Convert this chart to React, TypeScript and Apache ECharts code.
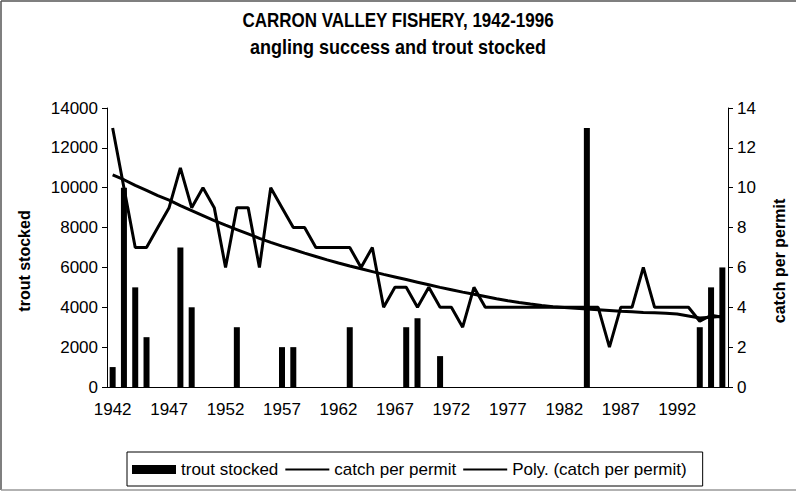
import React, { useEffect, useRef } from "react";
import * as echarts from "echarts";

const years: string[] = Array.from({ length: 55 }, (_, i) => String(1942 + i));

const troutStocked: (number | null)[] = [
  1000, 10000, 5000, 2500, null, null, 7000, 4000, null, null,
  null, 3000, null, null, null, 2000, 2000, null, null, null,
  null, 3000, null, null, null, null, 3000, 3450, null, 1550,
  null, null, null, null, null, null, null, null, null, null,
  null, null, 13000, null, null, null, null, null, null, null,
  null, null, 3000, 5000, 6000,
];

const catchPerPermit: number[] = [
  13, 10, 7, 7, 8, 9, 11, 9, 10, 9,
  6, 9, 9, 6, 10, 9, 8, 8, 7, 7,
  7, 7, 6, 7, 4, 5, 5, 4, 5, 4,
  4, 3, 5, 4, 4, 4, 4, 4, 4, 4,
  4, 4, 4, 4, 2, 4, 4, 6, 4, 4,
  4, 4, 3.3, 3.6, 3.5,
];

const polyTrend: number[] = [
  10.64, 10.4, 10.12, 9.87, 9.6, 9.38, 9.1, 8.85, 8.6, 8.35,
  8.12, 7.9, 7.68, 7.46, 7.26, 7.07, 6.9, 6.72, 6.55, 6.38,
  6.22, 6.07, 5.93, 5.79, 5.65, 5.52, 5.39, 5.26, 5.13, 5.0,
  4.88, 4.76, 4.65, 4.54, 4.43, 4.33, 4.24, 4.16, 4.09, 4.03,
  3.99, 3.95, 3.92, 3.88, 3.84, 3.8, 3.77, 3.74, 3.72, 3.7,
  3.66, 3.56, 3.46, 3.5, 3.55,
];

const leftTicks = { min: 0, max: 14000, interval: 2000 };
const rightTicks = { min: 0, max: 14, interval: 2 };

const FONT = '"Liberation Sans", Arial, sans-serif';
const LINE_ICON = "path://M0 0H100V5H0Z";

export default function App() {
  const ref = useRef<HTMLDivElement>(null);
  useEffect(() => {
    document.body.style.margin = "0";
    const chart = echarts.init(ref.current!, null, { renderer: "svg" });
    chart.setOption({
      animation: false,
      backgroundColor: "#fff",
      textStyle: { fontFamily: FONT, color: "#000" },
      grid: { left: 107, right: 68, top: 108, bottom: 104, containLabel: false },
      xAxis: {
        type: "category",
        data: years,
        boundaryGap: true,
        axisLine: { lineStyle: { color: "#000", width: 1 } },
        axisTick: { interval: 0, length: 6, lineStyle: { color: "#000" } },
        axisLabel: { interval: 4, fontSize: 17, color: "#000", margin: 14, fontFamily: FONT },
      },
      yAxis: [
        {
          type: "value",
          ...leftTicks,
          splitLine: { show: false },
          axisLine: { show: true, lineStyle: { color: "#000" } },
          axisTick: { show: true, length: 5, lineStyle: { color: "#000" } },
          axisLabel: {
            fontSize: 17,
            color: "#000",
            margin: 9,
            fontFamily: FONT,
            formatter: (v: number) => String(v),
          },
        },
        {
          type: "value",
          position: "right",
          ...rightTicks,
          splitLine: { show: false },
          axisLine: { show: true, lineStyle: { color: "#000" } },
          axisTick: { show: true, length: 5, lineStyle: { color: "#000" } },
          axisLabel: {
            fontSize: 17,
            color: "#000",
            margin: 9,
            fontFamily: FONT,
            formatter: (v: number) => String(v),
          },
        },
      ],
      legend: {
        left: 127,
        top: 452,
        orient: "horizontal",
        borderColor: "#000",
        borderWidth: 1,
        borderRadius: 0,
        padding: [9, 16, 8, 5],
        itemGap: 7,
        itemWidth: 44,
        itemHeight: 9,
        symbolKeepAspect: true,
        textStyle: { fontSize: 17, color: "#000", fontFamily: FONT },
        data: [
          { name: "trout stocked", icon: "rect" },
          { name: "catch per permit", icon: LINE_ICON },
          { name: "Poly. (catch per permit)", icon: LINE_ICON },
        ],
      },
      series: [
        {
          name: "trout stocked",
          type: "bar",
          yAxisIndex: 0,
          data: troutStocked,
          barWidth: 6,
          itemStyle: { color: "#000" },
        },
        {
          name: "catch per permit",
          type: "line",
          yAxisIndex: 1,
          data: catchPerPermit,
          symbol: "none",
          lineStyle: { color: "#000", width: 3 },
          itemStyle: { color: "#000" },
        },
        {
          name: "Poly. (catch per permit)",
          type: "line",
          yAxisIndex: 1,
          data: polyTrend,
          symbol: "none",
          lineStyle: { color: "#000", width: 3 },
          itemStyle: { color: "#000" },
        },
      ],
      graphic: [
        {
          type: "line",
          silent: true,
          shape: { x1: 1, y1: 1, x2: 796, y2: 1 },
          style: { stroke: "#555", lineWidth: 1.5 },
        },
        {
          type: "line",
          silent: true,
          shape: { x1: 1, y1: 1, x2: 1, y2: 490 },
          style: { stroke: "#555", lineWidth: 1.5 },
        },
        {
          type: "line",
          silent: true,
          shape: { x1: 1, y1: 490, x2: 796, y2: 490 },
          style: { stroke: "#999", lineWidth: 1.5 },
        },
        {
          type: "text",
          x: 398,
          y: 20,
          scaleX: 0.85,
          style: {
            text: "CARRON VALLEY FISHERY, 1942-1996",
            font: `bold 20px ${FONT}`,
            fill: "#000",
            align: "center",
            verticalAlign: "middle",
          },
        },
        {
          type: "text",
          x: 398,
          y: 47,
          scaleX: 0.9,
          style: {
            text: "angling success and trout stocked",
            font: `bold 20px ${FONT}`,
            fill: "#000",
            align: "center",
            verticalAlign: "middle",
          },
        },
        {
          type: "text",
          x: 24,
          y: 261,
          rotation: Math.PI / 2,
          style: {
            text: "trout stocked",
            font: `bold 16px ${FONT}`,
            fill: "#000",
            align: "center",
            verticalAlign: "middle",
          },
        },
        {
          type: "text",
          x: 779,
          y: 261,
          rotation: Math.PI / 2,
          style: {
            text: "catch per permit",
            font: `bold 16px ${FONT}`,
            fill: "#000",
            align: "center",
            verticalAlign: "middle",
          },
        },
      ],
    });
    return () => chart.dispose();
  }, []);
  return <div ref={ref} style={{ width: 796, height: 491 }} />;
}
